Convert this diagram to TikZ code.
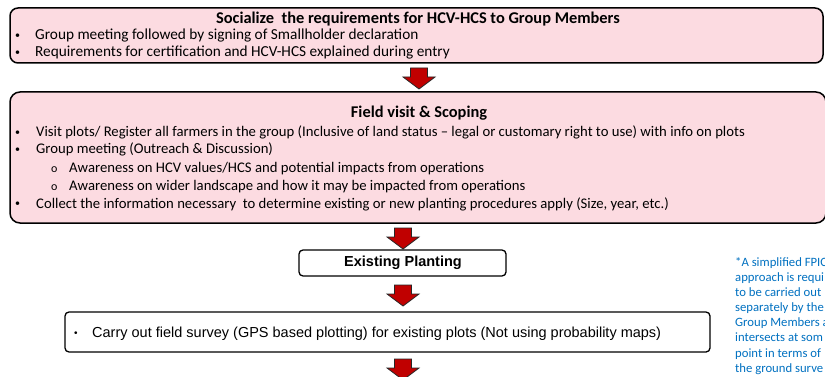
\documentclass[tikz,border=0pt]{standalone}
\usepackage{fontspec}
\setmainfont{Carlito}
\newfontfamily\arialfont{Liberation Sans}
\definecolor{boxpink}{RGB}{252,219,225}
\definecolor{arrowred}{RGB}{192,0,0}
\definecolor{noteblue}{RGB}{0,112,192}
\def\redarrow(#1,#2){\draw[fill=arrowred, draw=black!85, line width=0.8pt, line join=miter] (#1-8.5,#2) -- (#1+8.5,#2) -- (#1+8.5,#2+9) -- (#1+16,#2+9) -- (#1,#2+21) -- (#1-16,#2+9) -- (#1-8.5,#2+9) -- cycle;}

\begin{document}
\begin{tikzpicture}[x=1pt, y=-1pt,
	pinkbox/.style={draw=black, line width=1.5pt, fill=boxpink, rounded corners=8pt},
	whitebox/.style={draw=black, line width=1.3pt, fill=white, rounded corners=4pt},
	txt/.style={anchor=base west, inner sep=0pt, font=\fontsize{14.7}{17}\selectfont},
	dot/.style={anchor=base west, inner sep=0pt, font=\fontsize{10}{12}\selectfont},
	ttl/.style={anchor=base, inner sep=0pt, font=\fontsize{16.4}{19}\selectfont\bfseries},
	arl/.style={inner sep=0pt, font=\arialfont\fontsize{14.5}{17}\selectfont},
	note/.style={anchor=base west, inner sep=0pt, text=noteblue, font=\fontsize{12.7}{15}\selectfont}]
		%%%%% START %%%%%
		\useasboundingbox (0,0) rectangle (825,377);
		\clip (0,0) rectangle (825,377);
		
		% socialize
		\draw[pinkbox] (10,8) rectangle (823,63);
		\node[ttl] (soctitle) at (418,24) {Socialize~ the requirements for HCV-HCS to Group Members};
		\node[dot] (socb1) at (15,39) {•};
		\node[txt, font=\fontsize{15.3}{17}\selectfont] (soct1) at (35,40) {Group meeting followed by signing of Smallholder declaration};
		\node[dot] (socb2) at (15,56) {•};
		\node[txt, font=\fontsize{15.3}{17}\selectfont] (soct2) at (35,57) {Requirements for certification and HCV-HCS explained during entry};
		
		\redarrow(419,68)
		
		% field visit
		\draw[pinkbox, rounded corners=10pt] (10,92) rectangle (826,223);
		\node[ttl] (fvtitle) at (419,118) {Field visit \& Scoping};
		\node[dot] (fvb1) at (15,136) {•};
		\node[txt] (fvt1) at (36,137) {Visit plots/ Register all farmers in the group (Inclusive of land status – legal or customary right to use) with info on plots};
		\node[dot] (fvb2) at (15,153) {•};
		\node[txt] (fvt2) at (36,154) {Group meeting (Outreach \& Discussion)};
		\node[txt, font=\fontsize{12}{14}\selectfont] (fvo1) at (51,172) {o};
		\node[txt] (fvs1) at (69,172) {Awareness on HCV values/HCS and potential impacts from operations};
		\node[txt, font=\fontsize{12}{14}\selectfont] (fvo2) at (51,190) {o};
		\node[txt] (fvs2) at (69,190) {Awareness on wider landscape and how it may be impacted from operations};
		\node[dot] (fvb3) at (15,207) {•};
		\node[txt] (fvt3) at (36,208) {Collect the information necessary~ to determine existing or new planting procedures apply (Size, year, etc.)};
		
		\redarrow(403,228)
		
		% existing planting
		\draw[whitebox] (299,250) rectangle (506,276);
		\node[arl, font=\arialfont\fontsize{14.5}{17}\selectfont\bfseries] (exist) at (403,263) {Existing Planting};
		
		\redarrow(403,285)
		
		% field survey
		\draw[whitebox] (65,312) rectangle (710,352);
		\node[arl, anchor=base west, font=\arialfont\fontsize{10}{12}\selectfont] (survb) at (74,336) {•};
		\node[arl, anchor=base west] (survt) at (92,337) {Carry out field survey (GPS based plotting) for existing plots (Not using probability maps)};
		
		\redarrow(403,359)
		
		% side note
		\node[note] (n1) at (735,266) {*A simplified FPIC};
		\node[note] (n2) at (735,281) {approach is requi};
		\node[note] (n3) at (735,296) {to be carried out};
		\node[note] (n4) at (735,311) {separately by the};
		\node[note] (n5) at (735,326) {Group Members a};
		\node[note] (n6) at (735,341) {intersects at som};
		\node[note] (n7) at (735,357) {point in terms of};
		\node[note] (n8) at (735,372) {the ground surve};
		%%%%% END %%%%%
\end{tikzpicture}
\end{document}
